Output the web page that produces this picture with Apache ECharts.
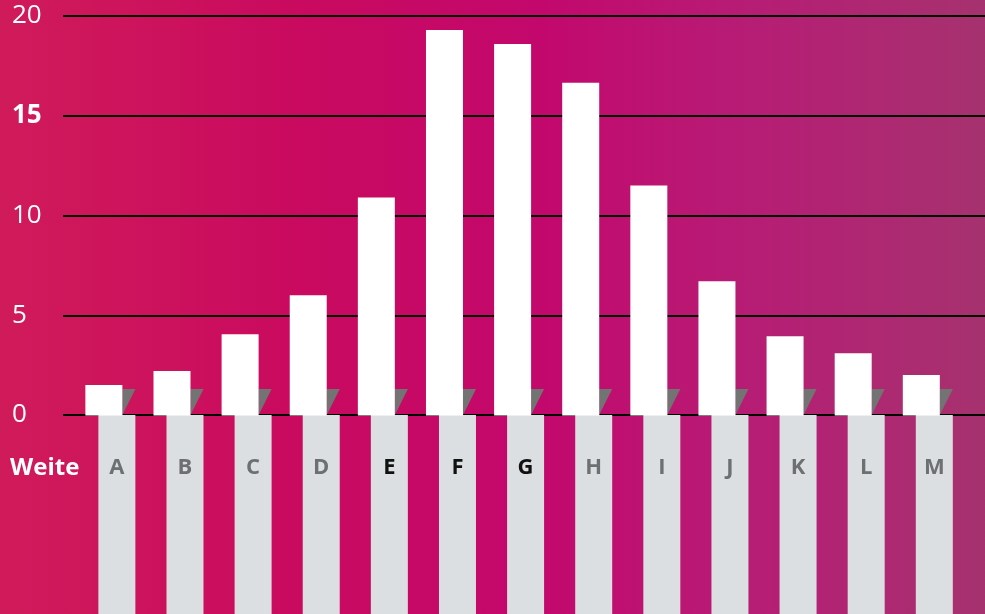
<!DOCTYPE html>
<html>
<head>
<meta charset="utf-8">
<title>Weite</title>
<script src="https://cdn.jsdelivr.net/npm/echarts@6/dist/echarts.min.js"></script>
<style>
html, body { margin: 0; padding: 0; }
#chart { width: 985px; height: 614px; }
</style>
</head>
<body>
<div id="chart"></div>
<script>
var categories = ['A', 'B', 'C', 'D', 'E', 'F', 'G', 'H', 'I', 'J', 'K', 'L', 'M'];
var values = [1.5, 2.2, 4.05, 6.0, 10.9, 19.3, 18.6, 16.65, 11.5, 6.7, 3.95, 3.1, 2.0];
var yTicks = [0, 5, 10, 15, 20];
var boldTicks = [15];
var darkLabels = ['E', 'F', 'G'];
var rowLabel = 'Weite';

var chart = echarts.init(document.getElementById('chart'));

var seriesData = values.map(function (v, i) { return [i, v]; });

// bar + grey strip below + folded corner + letter
function renderBar(params, api) {
  var i = api.value(0);
  var top = api.coord([i, api.value(1)]);
  var base = api.coord([i, 0]);
  var cx = top[0];
  var y0 = base[1];
  var barW = 37;
  var barL = cx - barW / 2;
  var barR = cx + barW / 2;
  var stripL = cx - 5.5;
  var stripR = stripL + 37;
  var stripTop = y0 - 26;
  var name = categories[i];
  return {
    type: 'group',
    children: [
      { type: 'rect', shape: { x: stripL, y: y0, width: stripR - stripL, height: api.getHeight() - y0 },
        style: { fill: '#dcdfe2' } },
      { type: 'polygon', shape: { points: [[barR, stripTop], [stripR, stripTop], [barR, y0]] },
        style: { fill: '#737373' } },
      { type: 'rect', shape: { x: barL, y: top[1], width: barW, height: y0 - top[1] + 0.6 },
        style: { fill: '#ffffff' } },
      { type: 'text', x: (stripL + stripR) / 2, y: y0 + 53,
        style: {
          text: name,
          fill: darkLabels.indexOf(name) >= 0 ? '#111111' : '#6d6f71',
          font: 'bold 22px "Open Sans"',
          align: 'center',
          verticalAlign: 'middle'
        } }
    ]
  };
}

var option = {
  backgroundColor: new echarts.graphic.LinearGradient(0, 0, 1, 0, [
    { offset: 0, color: '#d01b5a' },
    { offset: 0.3, color: '#c90a5f' },
    { offset: 0.55, color: '#c3086d' },
    { offset: 0.75, color: '#b71c75' },
    { offset: 1, color: '#a6326f' }
  ]),
  animation: false,
  grid: { left: 63, right: 0, top: 16, bottom: 199 },
  xAxis: {
    type: 'value',
    min: -0.6,
    max: 12.935,
    show: false,
    splitLine: { show: false }
  },
  yAxis: {
    type: 'value',
    min: yTicks[0],
    max: yTicks[yTicks.length - 1],
    interval: 5,
    axisLine: { show: false },
    axisTick: { show: false },
    axisLabel: {
      align: 'left',
      margin: 51,
      color: '#ffffff',
      fontSize: 26,
      fontFamily: 'Open Sans',
      formatter: function (v) {
        return boldTicks.indexOf(v) >= 0 ? '{b|' + v + '}' : '' + v;
      },
      rich: {
        b: { color: '#ffffff', fontSize: 26, fontFamily: 'Open Sans', fontWeight: 'bold' }
      }
    },
    splitLine: { lineStyle: { color: '#000000', width: 2 } }
  },
  graphic: [
    {
      type: 'text',
      x: 10,
      y: 468,
      style: {
        text: rowLabel,
        fill: '#ffffff',
        font: 'bold 24px "Open Sans"',
        verticalAlign: 'middle'
      }
    }
  ],
  series: [
    {
      type: 'custom',
      renderItem: renderBar,
      data: seriesData,
      clip: false
    }
  ]
};

chart.setOption(option);
</script>
</body>
</html>
